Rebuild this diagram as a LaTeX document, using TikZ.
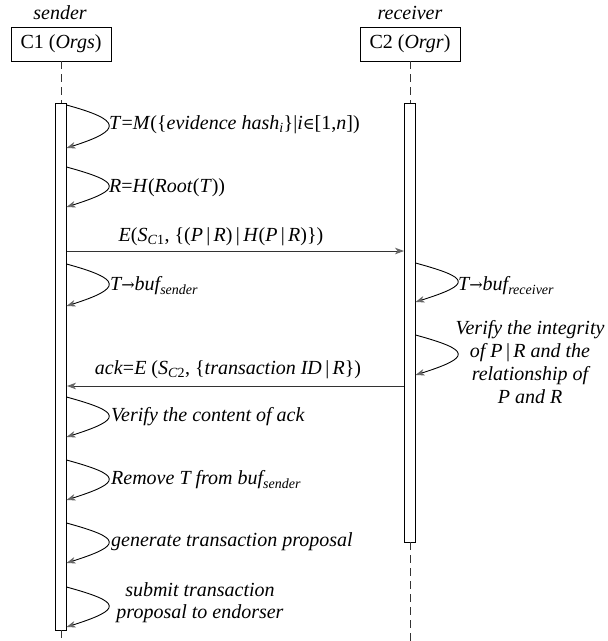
\documentclass[tikz,border=0pt]{standalone}
\usepackage{fontspec}
\setmainfont{Liberation Serif}
\newfontfamily\symf[Scale=0.8]{DejaVu Serif}
\usetikzlibrary{arrows.meta}
\newcommand\sub[1]{\textsubscript{#1}}
\newcommand\up[1]{\textup{#1}}
\begin{document}
\begin{tikzpicture}[x=1pt,y=-1pt,
  txt/.style={font=\fontsize{20}{22}\selectfont, inner sep=0pt},
  note/.style={inner sep=0pt, font=\fontsize{20}{22}\selectfont\itshape, anchor=west},
  actor/.style={draw, line width=0.9pt, minimum width=100pt, minimum height=34pt, inner sep=0pt, txt},
  bar/.style={draw, fill=white, line width=0.9pt, minimum width=11pt, inner sep=0pt},
  life/.style={line width=0.9pt, dash pattern=on 8pt off 5pt, black!80},
  tip/.style={-{Stealth[length=9pt,width=6.5pt,inset=2.5pt,color=black!60]}},
  msg/.style={tip, line width=0.9pt, black!80},
  selfloop/.style={tip, line width=0.9pt},
]
\useasboundingbox (0,0) rectangle (608,641);

% participants
\node[note, anchor=center] (lsend) at (60,13) {sender};
\node[note, anchor=center] (lrecv) at (410,13) {receiver};
\node[actor] (c1) at (61,44) {C1 (\textit{Orgs})};
\node[actor] (c2) at (410,44) {C2 (\textit{Orgr})};

% activation bars
\node[bar, minimum height=527pt] (sbar) at (61,366.5) {};
\node[bar, minimum height=439pt] (rbar) at (410,322.5) {};

% lifelines
\coordinate (send) at (61,641);
\coordinate (rend) at (410,641);
\draw[life] (c1.south) -- (sbar.north);
\draw[life] (sbar.south) -- (send);
\draw[life] (c2.south) -- (rbar.north);
\draw[life] (rbar.south) -- (rend);

% self messages of the sender
\foreach \n/\ya/\yb in {1/105/148, 2/167/207, 3/264/306, 4/397/437, 5/460/500, 6/523/563, 7/587/627} {
  \coordinate (s\n a) at (66.5,\ya);
  \coordinate (s\n b) at (66.5,\yb);
  \draw[selfloop] (s\n a) .. controls +(55,15) and +(57,-18) .. (s\n b);
}
% self messages of the receiver
\foreach \n/\ya/\yb in {1/263/302, 2/335/375} {
  \coordinate (r\n a) at (415.5,\ya);
  \coordinate (r\n b) at (415.5,\yb);
  \draw[selfloop] (r\n a) .. controls +(55,15) and +(57,-18) .. (r\n b);
}

% texts of the self messages
\node[note] (t1) at (109,125) {T\up{=}M\up{(\{}evidence hash\sub{i}\up{\}|}i\up{{\symf ∈}[1,}n\up{])}};
\node[note] (t2) at (109,188) {R\up{=}H\up{(}Root\up{(}T\up{))}};
\node[note] (t3) at (110,286) {T{\symf →}buf\sub{sender}};
\node[note] (t4) at (111,417) {Verify the content of ack};
\node[note] (t5) at (111,480) {Remove T from buf\sub{sender}};
\node[note] (t6) at (111,542) {generate transaction proposal};
\node[note, anchor=center, align=center] (t7) at (200,603) {submit transaction\\proposal to endorser};
\node[note] (u1) at (458,286) {T{\symf →}buf\sub{receiver}};
\node[note, anchor=center, align=center, font=\fontsize{20}{23}\selectfont\itshape] (u2) at (530,362)
  {Verify the integrity\\of P\,\up{|}\,R and the\\relationship of\\P and R};

% messages between the participants
\coordinate (m1) at (0,251);
\coordinate (m2) at (0,386);
\draw[msg] (sbar.east |- m1) -- (rbar.west |- m1);
\draw[msg] (rbar.west |- m2) -- (sbar.east |- m2);
\node[txt] (e1) at (221,237) {\textit{E}(\textit{S}\sub{\textit{C}1}, \{(\textit{P}\,|\,\textit{R})\,|\,\textit{H}(\textit{P}\,|\,\textit{R})\})};
\node[txt] (e2) at (228,370) {\textit{ack}=\textit{E} (\textit{S}\sub{\textit{C}2}, \{\textit{transaction ID}\,|\,\textit{R}\})};
\end{tikzpicture}
\end{document}
